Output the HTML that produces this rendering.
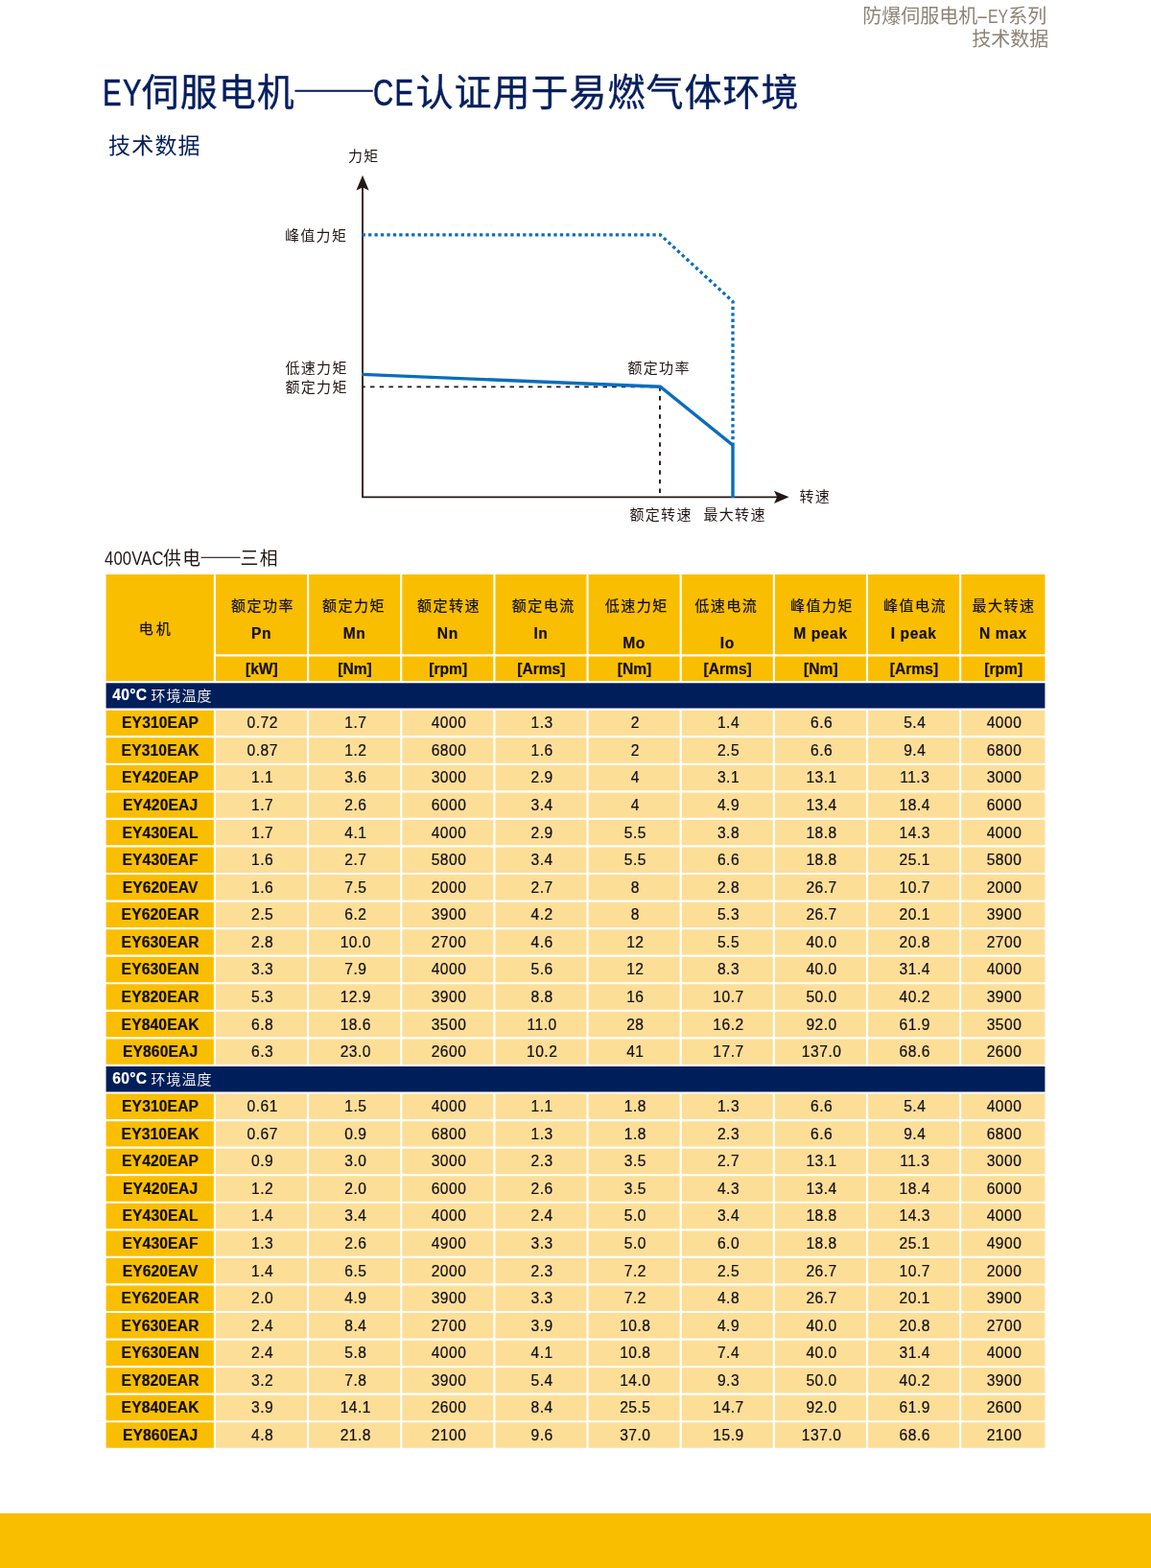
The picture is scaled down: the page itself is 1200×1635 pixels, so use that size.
<!DOCTYPE html>
<html lang="zh-CN">
<head>
<meta charset="utf-8">
<meta name="viewport" content="width=1200">
<title>EY伺服电机——CE认证用于易燃气体环境 技术数据</title>
<style>
html,body{margin:0;padding:0;background:#fff}
body{width:1200px;height:1635px;overflow:hidden;font-family:"Liberation Sans","Noto Sans CJK SC",sans-serif;color:#231815}
.page{position:relative;width:1200px;height:1635px;overflow:hidden;background:#fff}
.lat{display:inline-block;transform-origin:0 50%}
.dash{font-family:"Noto Sans CJK SC",sans-serif;font-feature-settings:"fwid"}
.runhead{position:absolute;right:106.8px;top:5px;text-align:right;color:#8d8376;font-size:20px;line-height:24.2px;font-weight:400;white-space:nowrap}
.runhead .rh1{padding-right:2px}
.runhead .hy{display:inline-block;width:10.4px;text-align:center;transform:scaleX(1.9)}
.runhead .lat{transform:scaleX(.79);margin-right:-5.2px}
.title{position:absolute;left:106.7px;top:65px;margin:0;font-size:39px;letter-spacing:1px;line-height:56px;font-weight:400;-webkit-text-stroke:.35px #051f5e;color:#051f5e;white-space:nowrap}
.title .lat{transform:scaleX(.75);-webkit-text-stroke:.6px #051f5e;letter-spacing:2px;margin-right:-15.1px}
.title .lat2{margin-left:1px;margin-right:-13.4px}
.title .dash{letter-spacing:0;font-size:40px;display:inline-block;transform:scaleX(1.09)}
.sub{position:absolute;left:113px;top:136.0px;margin:0;font-size:23px;letter-spacing:1.2px;line-height:32px;font-weight:400;color:#051f5e;white-space:nowrap}
.chart{position:absolute;left:0;top:0;width:1200px;height:600px;overflow:visible}
.chart text{font-family:"Liberation Sans","Noto Sans CJK SC",sans-serif;font-size:15px;letter-spacing:1.3px;font-weight:400;fill:#231815}
.cap{position:absolute;left:109px;top:566.4px;margin:0;font-size:18.8px;letter-spacing:1.5px;line-height:30px;font-weight:400;color:#231815;white-space:nowrap}
.cap .lat{font-size:20px;transform:scaleX(.83);margin-right:-13.3px;letter-spacing:.2px}
.cap .dash{display:inline-block;font-size:20px;letter-spacing:0;transform:scaleX(1.09);-webkit-text-stroke:.3px #231815}
.specwrap{position:absolute;left:110px;top:598px}
.specbg{position:absolute;left:0;top:0;display:block}
.spec{position:relative;left:0.55px;top:0.9px;display:grid;grid-template-columns:112.296875px repeat(8,95.015625px) 87.203125px;grid-template-rows:83.34375px 25.609375px;grid-auto-rows:26.421875px;column-gap:2.140625px;row-gap:2.140625px;margin:0;padding:0;border:0;border-spacing:0;font-size:15.6px;letter-spacing:0;line-height:18px;color:#100e16;-webkit-text-stroke:.2px #100e16}
.spec colgroup{display:none}
.spec thead,.spec tbody,.spec tr{display:contents}
.spec th,.spec td{display:flex;align-items:center;justify-content:center;box-sizing:border-box;padding:.9px 0 0 .8px;margin:0;font-weight:400;white-space:nowrap;min-width:0;min-height:0}
.spec th.motor{grid-row:1 / span 2;grid-column:1;font-size:15px;letter-spacing:3px}
.spec tr.h1 th{flex-direction:column;justify-content:flex-start;padding:0}
.spec tr.h1 th.motor{justify-content:center;padding:4px 7.7px 0 0}
.spec tr.h2 th{font-weight:700;grid-row:2;padding-top:2.2px}
.spec tr.h1 th .zh{font-size:15px;letter-spacing:1.5px;margin-left:3.9px;line-height:20px;margin-top:23.2px}
.spec tr.h1 th .sym{font-size:15.6px;letter-spacing:.6px;font-weight:700;line-height:20px;margin-top:9.3px}
.spec tr.h1 th:nth-child(7) .zh{margin-left:.5px}
.spec tr.h1 th:nth-child(10) .zh{margin-left:1.5px}
.spec tr.h1 th .zh{position:relative}
.spec tr.h1 th:nth-child(2) .zh{left:-0.45px}
.spec tr.h1 th:nth-child(3) .zh{left:-2.65px}
.spec tr.h1 th:nth-child(4) .zh{left:-0.8px}
.spec tr.h1 th:nth-child(5) .zh{left:0.85px}
.spec tr.h1 th:nth-child(6) .zh{left:0.8px}
.spec tr.h1 th:nth-child(7) .zh{left:-1.4px}
.spec tr.h1 th:nth-child(8) .zh{left:-0.4px}
.spec tr.h1 th:nth-child(9) .zh{left:-0.5px}
.spec tr.h1 th.low .sym{margin-top:19.2px}
.spec tbody th{font-weight:700;letter-spacing:.15px}
.spec tbody td{letter-spacing:.5px;padding-left:2.4px}
.spec tr.band th{grid-column:1 / -1;color:#fff;-webkit-text-stroke:0;justify-content:flex-start;padding:2.2px 0 0 6.8px}
.spec tr.band th span{font-size:15px;letter-spacing:1px;word-spacing:-1px;font-weight:350}
.spec tr.band th b{position:relative;top:-1px;font-size:15.6px;font-weight:700;letter-spacing:.3px;-webkit-text-stroke:.2px #fff}
.foot{position:absolute;left:0;top:1578px;width:1200px;height:57px;background:#fabe00}
</style>
</head>
<body>
<div class="page">
<header class="runhead"><div class="rh1">防爆伺服电机<span class="hy">-</span><span class="lat">EY</span>系列</div><div class="rh2">技术数据</div></header>
<h1 class="title"><span class="lat">EY</span>伺服电机<span class="dash">——</span><span class="lat lat2">CE</span>认证用于易燃气体环境</h1>
<h2 class="sub">技术数据</h2>
<svg class="chart" viewBox="0 0 1200 600" width="1200" height="600" role="img" aria-label="力矩-转速曲线">
<path d="M378 194.8 V518.3 H811" fill="none" stroke="#231815" stroke-width="1.8" stroke-linejoin="miter"/>
<path d="M378 182.8 L384.6 198.6 L378 195.4 L371.4 198.6 Z" fill="#231815"/>
<path d="M822.6 518.3 L807 524.9 L810.2 518.3 L807 511.7 Z" fill="#231815"/>
<path d="M378 403.4 H688" fill="none" stroke="#231815" stroke-width="1.9" stroke-dasharray="4.5 5.2" stroke-dashoffset="1.7"/>
<path d="M688 403.4 V517.5" fill="none" stroke="#231815" stroke-width="1.9" stroke-dasharray="4.4 5.25"/>
<path d="M377.6 244.8 H688.4 L764 314.4 V464" fill="none" stroke="#0b6dbd" stroke-width="3.3" stroke-dasharray="3.3 3.144"/>
<path d="M377.2 390.4 L688.4 403.3 L764 464.2 V518.9" fill="none" stroke="#0b6dbd" stroke-width="3.4" stroke-linejoin="miter"/>
<text x="363" y="167.6">力矩</text>
<text x="297" y="250.6">峰值力矩</text>
<text x="297.5" y="388.6">低速力矩</text>
<text x="297.5" y="409.1">额定力矩</text>
<text x="654.5" y="388.6">额定功率</text>
<text x="656.5" y="542.1">额定转速</text>
<text x="733.5" y="542.1">最大转速</text>
<text x="833.5" y="523.1">转速</text>
</svg>
<p class="cap"><span class="lat">400VAC</span>供电<span class="dash">——</span>三相</p>
<div class="specwrap">
<svg class="specbg" width="981" height="913" viewBox="0 0 981 913" aria-hidden="true"><g transform="translate(0.55 0.9)"><path fill="#fabe00" d="M0 0h112.296875v111.09375h-112.296875zM114.4375 0h95.015625v83.34375h-95.015625zM114.4375 85.484375h95.015625v25.609375h-95.015625zM211.59375 0h95.015625v83.34375h-95.015625zM211.59375 85.484375h95.015625v25.609375h-95.015625zM308.75 0h95.015625v83.34375h-95.015625zM308.75 85.484375h95.015625v25.609375h-95.015625zM405.90625 0h95.015625v83.34375h-95.015625zM405.90625 85.484375h95.015625v25.609375h-95.015625zM503.0625 0h95.015625v83.34375h-95.015625zM503.0625 85.484375h95.015625v25.609375h-95.015625zM600.21875 0h95.015625v83.34375h-95.015625zM600.21875 85.484375h95.015625v25.609375h-95.015625zM697.375 0h95.015625v83.34375h-95.015625zM697.375 85.484375h95.015625v25.609375h-95.015625zM794.53125 0h95.015625v83.34375h-95.015625zM794.53125 85.484375h95.015625v25.609375h-95.015625zM891.6875 0h87.203125v83.34375h-87.203125zM891.6875 85.484375h87.203125v25.609375h-87.203125zM0 141.796875h112.296875v26.421875h-112.296875zM0 170.359375h112.296875v26.421875h-112.296875zM0 198.921875h112.296875v26.421875h-112.296875zM0 227.484375h112.296875v26.421875h-112.296875zM0 256.046875h112.296875v26.421875h-112.296875zM0 284.609375h112.296875v26.421875h-112.296875zM0 313.171875h112.296875v26.421875h-112.296875zM0 341.734375h112.296875v26.421875h-112.296875zM0 370.296875h112.296875v26.421875h-112.296875zM0 398.859375h112.296875v26.421875h-112.296875zM0 427.421875h112.296875v26.421875h-112.296875zM0 455.984375h112.296875v26.421875h-112.296875zM0 484.546875h112.296875v26.421875h-112.296875zM0 541.671875h112.296875v26.421875h-112.296875zM0 570.234375h112.296875v26.421875h-112.296875zM0 598.796875h112.296875v26.421875h-112.296875zM0 627.359375h112.296875v26.421875h-112.296875zM0 655.921875h112.296875v26.421875h-112.296875zM0 684.484375h112.296875v26.421875h-112.296875zM0 713.046875h112.296875v26.421875h-112.296875zM0 741.609375h112.296875v26.421875h-112.296875zM0 770.171875h112.296875v26.421875h-112.296875zM0 798.734375h112.296875v26.421875h-112.296875zM0 827.296875h112.296875v26.421875h-112.296875zM0 855.859375h112.296875v26.421875h-112.296875zM0 884.421875h112.296875v26.421875h-112.296875z"/><path fill="#fdde97" d="M114.4375 141.796875h95.015625v26.421875h-95.015625zM211.59375 141.796875h95.015625v26.421875h-95.015625zM308.75 141.796875h95.015625v26.421875h-95.015625zM405.90625 141.796875h95.015625v26.421875h-95.015625zM503.0625 141.796875h95.015625v26.421875h-95.015625zM600.21875 141.796875h95.015625v26.421875h-95.015625zM697.375 141.796875h95.015625v26.421875h-95.015625zM794.53125 141.796875h95.015625v26.421875h-95.015625zM891.6875 141.796875h87.203125v26.421875h-87.203125zM114.4375 170.359375h95.015625v26.421875h-95.015625zM211.59375 170.359375h95.015625v26.421875h-95.015625zM308.75 170.359375h95.015625v26.421875h-95.015625zM405.90625 170.359375h95.015625v26.421875h-95.015625zM503.0625 170.359375h95.015625v26.421875h-95.015625zM600.21875 170.359375h95.015625v26.421875h-95.015625zM697.375 170.359375h95.015625v26.421875h-95.015625zM794.53125 170.359375h95.015625v26.421875h-95.015625zM891.6875 170.359375h87.203125v26.421875h-87.203125zM114.4375 198.921875h95.015625v26.421875h-95.015625zM211.59375 198.921875h95.015625v26.421875h-95.015625zM308.75 198.921875h95.015625v26.421875h-95.015625zM405.90625 198.921875h95.015625v26.421875h-95.015625zM503.0625 198.921875h95.015625v26.421875h-95.015625zM600.21875 198.921875h95.015625v26.421875h-95.015625zM697.375 198.921875h95.015625v26.421875h-95.015625zM794.53125 198.921875h95.015625v26.421875h-95.015625zM891.6875 198.921875h87.203125v26.421875h-87.203125zM114.4375 227.484375h95.015625v26.421875h-95.015625zM211.59375 227.484375h95.015625v26.421875h-95.015625zM308.75 227.484375h95.015625v26.421875h-95.015625zM405.90625 227.484375h95.015625v26.421875h-95.015625zM503.0625 227.484375h95.015625v26.421875h-95.015625zM600.21875 227.484375h95.015625v26.421875h-95.015625zM697.375 227.484375h95.015625v26.421875h-95.015625zM794.53125 227.484375h95.015625v26.421875h-95.015625zM891.6875 227.484375h87.203125v26.421875h-87.203125zM114.4375 256.046875h95.015625v26.421875h-95.015625zM211.59375 256.046875h95.015625v26.421875h-95.015625zM308.75 256.046875h95.015625v26.421875h-95.015625zM405.90625 256.046875h95.015625v26.421875h-95.015625zM503.0625 256.046875h95.015625v26.421875h-95.015625zM600.21875 256.046875h95.015625v26.421875h-95.015625zM697.375 256.046875h95.015625v26.421875h-95.015625zM794.53125 256.046875h95.015625v26.421875h-95.015625zM891.6875 256.046875h87.203125v26.421875h-87.203125zM114.4375 284.609375h95.015625v26.421875h-95.015625zM211.59375 284.609375h95.015625v26.421875h-95.015625zM308.75 284.609375h95.015625v26.421875h-95.015625zM405.90625 284.609375h95.015625v26.421875h-95.015625zM503.0625 284.609375h95.015625v26.421875h-95.015625zM600.21875 284.609375h95.015625v26.421875h-95.015625zM697.375 284.609375h95.015625v26.421875h-95.015625zM794.53125 284.609375h95.015625v26.421875h-95.015625zM891.6875 284.609375h87.203125v26.421875h-87.203125zM114.4375 313.171875h95.015625v26.421875h-95.015625zM211.59375 313.171875h95.015625v26.421875h-95.015625zM308.75 313.171875h95.015625v26.421875h-95.015625zM405.90625 313.171875h95.015625v26.421875h-95.015625zM503.0625 313.171875h95.015625v26.421875h-95.015625zM600.21875 313.171875h95.015625v26.421875h-95.015625zM697.375 313.171875h95.015625v26.421875h-95.015625zM794.53125 313.171875h95.015625v26.421875h-95.015625zM891.6875 313.171875h87.203125v26.421875h-87.203125zM114.4375 341.734375h95.015625v26.421875h-95.015625zM211.59375 341.734375h95.015625v26.421875h-95.015625zM308.75 341.734375h95.015625v26.421875h-95.015625zM405.90625 341.734375h95.015625v26.421875h-95.015625zM503.0625 341.734375h95.015625v26.421875h-95.015625zM600.21875 341.734375h95.015625v26.421875h-95.015625zM697.375 341.734375h95.015625v26.421875h-95.015625zM794.53125 341.734375h95.015625v26.421875h-95.015625zM891.6875 341.734375h87.203125v26.421875h-87.203125zM114.4375 370.296875h95.015625v26.421875h-95.015625zM211.59375 370.296875h95.015625v26.421875h-95.015625zM308.75 370.296875h95.015625v26.421875h-95.015625zM405.90625 370.296875h95.015625v26.421875h-95.015625zM503.0625 370.296875h95.015625v26.421875h-95.015625zM600.21875 370.296875h95.015625v26.421875h-95.015625zM697.375 370.296875h95.015625v26.421875h-95.015625zM794.53125 370.296875h95.015625v26.421875h-95.015625zM891.6875 370.296875h87.203125v26.421875h-87.203125zM114.4375 398.859375h95.015625v26.421875h-95.015625zM211.59375 398.859375h95.015625v26.421875h-95.015625zM308.75 398.859375h95.015625v26.421875h-95.015625zM405.90625 398.859375h95.015625v26.421875h-95.015625zM503.0625 398.859375h95.015625v26.421875h-95.015625zM600.21875 398.859375h95.015625v26.421875h-95.015625zM697.375 398.859375h95.015625v26.421875h-95.015625zM794.53125 398.859375h95.015625v26.421875h-95.015625zM891.6875 398.859375h87.203125v26.421875h-87.203125zM114.4375 427.421875h95.015625v26.421875h-95.015625zM211.59375 427.421875h95.015625v26.421875h-95.015625zM308.75 427.421875h95.015625v26.421875h-95.015625zM405.90625 427.421875h95.015625v26.421875h-95.015625zM503.0625 427.421875h95.015625v26.421875h-95.015625zM600.21875 427.421875h95.015625v26.421875h-95.015625zM697.375 427.421875h95.015625v26.421875h-95.015625zM794.53125 427.421875h95.015625v26.421875h-95.015625zM891.6875 427.421875h87.203125v26.421875h-87.203125zM114.4375 455.984375h95.015625v26.421875h-95.015625zM211.59375 455.984375h95.015625v26.421875h-95.015625zM308.75 455.984375h95.015625v26.421875h-95.015625zM405.90625 455.984375h95.015625v26.421875h-95.015625zM503.0625 455.984375h95.015625v26.421875h-95.015625zM600.21875 455.984375h95.015625v26.421875h-95.015625zM697.375 455.984375h95.015625v26.421875h-95.015625zM794.53125 455.984375h95.015625v26.421875h-95.015625zM891.6875 455.984375h87.203125v26.421875h-87.203125zM114.4375 484.546875h95.015625v26.421875h-95.015625zM211.59375 484.546875h95.015625v26.421875h-95.015625zM308.75 484.546875h95.015625v26.421875h-95.015625zM405.90625 484.546875h95.015625v26.421875h-95.015625zM503.0625 484.546875h95.015625v26.421875h-95.015625zM600.21875 484.546875h95.015625v26.421875h-95.015625zM697.375 484.546875h95.015625v26.421875h-95.015625zM794.53125 484.546875h95.015625v26.421875h-95.015625zM891.6875 484.546875h87.203125v26.421875h-87.203125zM114.4375 541.671875h95.015625v26.421875h-95.015625zM211.59375 541.671875h95.015625v26.421875h-95.015625zM308.75 541.671875h95.015625v26.421875h-95.015625zM405.90625 541.671875h95.015625v26.421875h-95.015625zM503.0625 541.671875h95.015625v26.421875h-95.015625zM600.21875 541.671875h95.015625v26.421875h-95.015625zM697.375 541.671875h95.015625v26.421875h-95.015625zM794.53125 541.671875h95.015625v26.421875h-95.015625zM891.6875 541.671875h87.203125v26.421875h-87.203125zM114.4375 570.234375h95.015625v26.421875h-95.015625zM211.59375 570.234375h95.015625v26.421875h-95.015625zM308.75 570.234375h95.015625v26.421875h-95.015625zM405.90625 570.234375h95.015625v26.421875h-95.015625zM503.0625 570.234375h95.015625v26.421875h-95.015625zM600.21875 570.234375h95.015625v26.421875h-95.015625zM697.375 570.234375h95.015625v26.421875h-95.015625zM794.53125 570.234375h95.015625v26.421875h-95.015625zM891.6875 570.234375h87.203125v26.421875h-87.203125zM114.4375 598.796875h95.015625v26.421875h-95.015625zM211.59375 598.796875h95.015625v26.421875h-95.015625zM308.75 598.796875h95.015625v26.421875h-95.015625zM405.90625 598.796875h95.015625v26.421875h-95.015625zM503.0625 598.796875h95.015625v26.421875h-95.015625zM600.21875 598.796875h95.015625v26.421875h-95.015625zM697.375 598.796875h95.015625v26.421875h-95.015625zM794.53125 598.796875h95.015625v26.421875h-95.015625zM891.6875 598.796875h87.203125v26.421875h-87.203125zM114.4375 627.359375h95.015625v26.421875h-95.015625zM211.59375 627.359375h95.015625v26.421875h-95.015625zM308.75 627.359375h95.015625v26.421875h-95.015625zM405.90625 627.359375h95.015625v26.421875h-95.015625zM503.0625 627.359375h95.015625v26.421875h-95.015625zM600.21875 627.359375h95.015625v26.421875h-95.015625zM697.375 627.359375h95.015625v26.421875h-95.015625zM794.53125 627.359375h95.015625v26.421875h-95.015625zM891.6875 627.359375h87.203125v26.421875h-87.203125zM114.4375 655.921875h95.015625v26.421875h-95.015625zM211.59375 655.921875h95.015625v26.421875h-95.015625zM308.75 655.921875h95.015625v26.421875h-95.015625zM405.90625 655.921875h95.015625v26.421875h-95.015625zM503.0625 655.921875h95.015625v26.421875h-95.015625zM600.21875 655.921875h95.015625v26.421875h-95.015625zM697.375 655.921875h95.015625v26.421875h-95.015625zM794.53125 655.921875h95.015625v26.421875h-95.015625zM891.6875 655.921875h87.203125v26.421875h-87.203125zM114.4375 684.484375h95.015625v26.421875h-95.015625zM211.59375 684.484375h95.015625v26.421875h-95.015625zM308.75 684.484375h95.015625v26.421875h-95.015625zM405.90625 684.484375h95.015625v26.421875h-95.015625zM503.0625 684.484375h95.015625v26.421875h-95.015625zM600.21875 684.484375h95.015625v26.421875h-95.015625zM697.375 684.484375h95.015625v26.421875h-95.015625zM794.53125 684.484375h95.015625v26.421875h-95.015625zM891.6875 684.484375h87.203125v26.421875h-87.203125zM114.4375 713.046875h95.015625v26.421875h-95.015625zM211.59375 713.046875h95.015625v26.421875h-95.015625zM308.75 713.046875h95.015625v26.421875h-95.015625zM405.90625 713.046875h95.015625v26.421875h-95.015625zM503.0625 713.046875h95.015625v26.421875h-95.015625zM600.21875 713.046875h95.015625v26.421875h-95.015625zM697.375 713.046875h95.015625v26.421875h-95.015625zM794.53125 713.046875h95.015625v26.421875h-95.015625zM891.6875 713.046875h87.203125v26.421875h-87.203125zM114.4375 741.609375h95.015625v26.421875h-95.015625zM211.59375 741.609375h95.015625v26.421875h-95.015625zM308.75 741.609375h95.015625v26.421875h-95.015625zM405.90625 741.609375h95.015625v26.421875h-95.015625zM503.0625 741.609375h95.015625v26.421875h-95.015625zM600.21875 741.609375h95.015625v26.421875h-95.015625zM697.375 741.609375h95.015625v26.421875h-95.015625zM794.53125 741.609375h95.015625v26.421875h-95.015625zM891.6875 741.609375h87.203125v26.421875h-87.203125zM114.4375 770.171875h95.015625v26.421875h-95.015625zM211.59375 770.171875h95.015625v26.421875h-95.015625zM308.75 770.171875h95.015625v26.421875h-95.015625zM405.90625 770.171875h95.015625v26.421875h-95.015625zM503.0625 770.171875h95.015625v26.421875h-95.015625zM600.21875 770.171875h95.015625v26.421875h-95.015625zM697.375 770.171875h95.015625v26.421875h-95.015625zM794.53125 770.171875h95.015625v26.421875h-95.015625zM891.6875 770.171875h87.203125v26.421875h-87.203125zM114.4375 798.734375h95.015625v26.421875h-95.015625zM211.59375 798.734375h95.015625v26.421875h-95.015625zM308.75 798.734375h95.015625v26.421875h-95.015625zM405.90625 798.734375h95.015625v26.421875h-95.015625zM503.0625 798.734375h95.015625v26.421875h-95.015625zM600.21875 798.734375h95.015625v26.421875h-95.015625zM697.375 798.734375h95.015625v26.421875h-95.015625zM794.53125 798.734375h95.015625v26.421875h-95.015625zM891.6875 798.734375h87.203125v26.421875h-87.203125zM114.4375 827.296875h95.015625v26.421875h-95.015625zM211.59375 827.296875h95.015625v26.421875h-95.015625zM308.75 827.296875h95.015625v26.421875h-95.015625zM405.90625 827.296875h95.015625v26.421875h-95.015625zM503.0625 827.296875h95.015625v26.421875h-95.015625zM600.21875 827.296875h95.015625v26.421875h-95.015625zM697.375 827.296875h95.015625v26.421875h-95.015625zM794.53125 827.296875h95.015625v26.421875h-95.015625zM891.6875 827.296875h87.203125v26.421875h-87.203125zM114.4375 855.859375h95.015625v26.421875h-95.015625zM211.59375 855.859375h95.015625v26.421875h-95.015625zM308.75 855.859375h95.015625v26.421875h-95.015625zM405.90625 855.859375h95.015625v26.421875h-95.015625zM503.0625 855.859375h95.015625v26.421875h-95.015625zM600.21875 855.859375h95.015625v26.421875h-95.015625zM697.375 855.859375h95.015625v26.421875h-95.015625zM794.53125 855.859375h95.015625v26.421875h-95.015625zM891.6875 855.859375h87.203125v26.421875h-87.203125zM114.4375 884.421875h95.015625v26.421875h-95.015625zM211.59375 884.421875h95.015625v26.421875h-95.015625zM308.75 884.421875h95.015625v26.421875h-95.015625zM405.90625 884.421875h95.015625v26.421875h-95.015625zM503.0625 884.421875h95.015625v26.421875h-95.015625zM600.21875 884.421875h95.015625v26.421875h-95.015625zM697.375 884.421875h95.015625v26.421875h-95.015625zM794.53125 884.421875h95.015625v26.421875h-95.015625zM891.6875 884.421875h87.203125v26.421875h-87.203125z"/><path fill="#001e5a" d="M0 113.234375h978.890625v26.421875h-978.890625zM0 513.109375h978.890625v26.421875h-978.890625z"/></g></svg>
<table class="spec">
<colgroup><col class="c0"><col class="cn"><col class="cn"><col class="cn"><col class="cn"><col class="cn"><col class="cn"><col class="cn"><col class="cn"><col class="cl"></colgroup>
<thead>
<tr class="h1"><th rowspan="2" class="motor"><span>电机</span></th><th><span class="zh">额定功率</span><span class="sym">Pn</span></th><th><span class="zh">额定力矩</span><span class="sym">Mn</span></th><th><span class="zh">额定转速</span><span class="sym">Nn</span></th><th><span class="zh">额定电流</span><span class="sym">In</span></th><th class="low"><span class="zh">低速力矩</span><span class="sym">Mo</span></th><th class="low"><span class="zh">低速电流</span><span class="sym">Io</span></th><th><span class="zh">峰值力矩</span><span class="sym">M peak</span></th><th><span class="zh">峰值电流</span><span class="sym">I peak</span></th><th><span class="zh">最大转速</span><span class="sym">N max</span></th></tr>
<tr class="h2"><th><span>[kW]</span></th><th><span>[Nm]</span></th><th><span>[rpm]</span></th><th><span>[Arms]</span></th><th><span>[Nm]</span></th><th><span>[Arms]</span></th><th><span>[Nm]</span></th><th><span>[Arms]</span></th><th><span>[rpm]</span></th></tr>
</thead>
<tbody>
<tr class="band"><th colspan="10"><span><b>40°C</b> 环境温度</span></th></tr>
<tr><th><span>EY310EAP</span></th><td><span>0.72</span></td><td><span>1.7</span></td><td><span>4000</span></td><td><span>1.3</span></td><td><span>2</span></td><td><span>1.4</span></td><td><span>6.6</span></td><td><span>5.4</span></td><td><span>4000</span></td></tr>
<tr><th><span>EY310EAK</span></th><td><span>0.87</span></td><td><span>1.2</span></td><td><span>6800</span></td><td><span>1.6</span></td><td><span>2</span></td><td><span>2.5</span></td><td><span>6.6</span></td><td><span>9.4</span></td><td><span>6800</span></td></tr>
<tr><th><span>EY420EAP</span></th><td><span>1.1</span></td><td><span>3.6</span></td><td><span>3000</span></td><td><span>2.9</span></td><td><span>4</span></td><td><span>3.1</span></td><td><span>13.1</span></td><td><span>11.3</span></td><td><span>3000</span></td></tr>
<tr><th><span>EY420EAJ</span></th><td><span>1.7</span></td><td><span>2.6</span></td><td><span>6000</span></td><td><span>3.4</span></td><td><span>4</span></td><td><span>4.9</span></td><td><span>13.4</span></td><td><span>18.4</span></td><td><span>6000</span></td></tr>
<tr><th><span>EY430EAL</span></th><td><span>1.7</span></td><td><span>4.1</span></td><td><span>4000</span></td><td><span>2.9</span></td><td><span>5.5</span></td><td><span>3.8</span></td><td><span>18.8</span></td><td><span>14.3</span></td><td><span>4000</span></td></tr>
<tr><th><span>EY430EAF</span></th><td><span>1.6</span></td><td><span>2.7</span></td><td><span>5800</span></td><td><span>3.4</span></td><td><span>5.5</span></td><td><span>6.6</span></td><td><span>18.8</span></td><td><span>25.1</span></td><td><span>5800</span></td></tr>
<tr><th><span>EY620EAV</span></th><td><span>1.6</span></td><td><span>7.5</span></td><td><span>2000</span></td><td><span>2.7</span></td><td><span>8</span></td><td><span>2.8</span></td><td><span>26.7</span></td><td><span>10.7</span></td><td><span>2000</span></td></tr>
<tr><th><span>EY620EAR</span></th><td><span>2.5</span></td><td><span>6.2</span></td><td><span>3900</span></td><td><span>4.2</span></td><td><span>8</span></td><td><span>5.3</span></td><td><span>26.7</span></td><td><span>20.1</span></td><td><span>3900</span></td></tr>
<tr><th><span>EY630EAR</span></th><td><span>2.8</span></td><td><span>10.0</span></td><td><span>2700</span></td><td><span>4.6</span></td><td><span>12</span></td><td><span>5.5</span></td><td><span>40.0</span></td><td><span>20.8</span></td><td><span>2700</span></td></tr>
<tr><th><span>EY630EAN</span></th><td><span>3.3</span></td><td><span>7.9</span></td><td><span>4000</span></td><td><span>5.6</span></td><td><span>12</span></td><td><span>8.3</span></td><td><span>40.0</span></td><td><span>31.4</span></td><td><span>4000</span></td></tr>
<tr><th><span>EY820EAR</span></th><td><span>5.3</span></td><td><span>12.9</span></td><td><span>3900</span></td><td><span>8.8</span></td><td><span>16</span></td><td><span>10.7</span></td><td><span>50.0</span></td><td><span>40.2</span></td><td><span>3900</span></td></tr>
<tr><th><span>EY840EAK</span></th><td><span>6.8</span></td><td><span>18.6</span></td><td><span>3500</span></td><td><span>11.0</span></td><td><span>28</span></td><td><span>16.2</span></td><td><span>92.0</span></td><td><span>61.9</span></td><td><span>3500</span></td></tr>
<tr><th><span>EY860EAJ</span></th><td><span>6.3</span></td><td><span>23.0</span></td><td><span>2600</span></td><td><span>10.2</span></td><td><span>41</span></td><td><span>17.7</span></td><td><span>137.0</span></td><td><span>68.6</span></td><td><span>2600</span></td></tr>
</tbody>
<tbody>
<tr class="band"><th colspan="10"><span><b>60°C</b> 环境温度</span></th></tr>
<tr><th><span>EY310EAP</span></th><td><span>0.61</span></td><td><span>1.5</span></td><td><span>4000</span></td><td><span>1.1</span></td><td><span>1.8</span></td><td><span>1.3</span></td><td><span>6.6</span></td><td><span>5.4</span></td><td><span>4000</span></td></tr>
<tr><th><span>EY310EAK</span></th><td><span>0.67</span></td><td><span>0.9</span></td><td><span>6800</span></td><td><span>1.3</span></td><td><span>1.8</span></td><td><span>2.3</span></td><td><span>6.6</span></td><td><span>9.4</span></td><td><span>6800</span></td></tr>
<tr><th><span>EY420EAP</span></th><td><span>0.9</span></td><td><span>3.0</span></td><td><span>3000</span></td><td><span>2.3</span></td><td><span>3.5</span></td><td><span>2.7</span></td><td><span>13.1</span></td><td><span>11.3</span></td><td><span>3000</span></td></tr>
<tr><th><span>EY420EAJ</span></th><td><span>1.2</span></td><td><span>2.0</span></td><td><span>6000</span></td><td><span>2.6</span></td><td><span>3.5</span></td><td><span>4.3</span></td><td><span>13.4</span></td><td><span>18.4</span></td><td><span>6000</span></td></tr>
<tr><th><span>EY430EAL</span></th><td><span>1.4</span></td><td><span>3.4</span></td><td><span>4000</span></td><td><span>2.4</span></td><td><span>5.0</span></td><td><span>3.4</span></td><td><span>18.8</span></td><td><span>14.3</span></td><td><span>4000</span></td></tr>
<tr><th><span>EY430EAF</span></th><td><span>1.3</span></td><td><span>2.6</span></td><td><span>4900</span></td><td><span>3.3</span></td><td><span>5.0</span></td><td><span>6.0</span></td><td><span>18.8</span></td><td><span>25.1</span></td><td><span>4900</span></td></tr>
<tr><th><span>EY620EAV</span></th><td><span>1.4</span></td><td><span>6.5</span></td><td><span>2000</span></td><td><span>2.3</span></td><td><span>7.2</span></td><td><span>2.5</span></td><td><span>26.7</span></td><td><span>10.7</span></td><td><span>2000</span></td></tr>
<tr><th><span>EY620EAR</span></th><td><span>2.0</span></td><td><span>4.9</span></td><td><span>3900</span></td><td><span>3.3</span></td><td><span>7.2</span></td><td><span>4.8</span></td><td><span>26.7</span></td><td><span>20.1</span></td><td><span>3900</span></td></tr>
<tr><th><span>EY630EAR</span></th><td><span>2.4</span></td><td><span>8.4</span></td><td><span>2700</span></td><td><span>3.9</span></td><td><span>10.8</span></td><td><span>4.9</span></td><td><span>40.0</span></td><td><span>20.8</span></td><td><span>2700</span></td></tr>
<tr><th><span>EY630EAN</span></th><td><span>2.4</span></td><td><span>5.8</span></td><td><span>4000</span></td><td><span>4.1</span></td><td><span>10.8</span></td><td><span>7.4</span></td><td><span>40.0</span></td><td><span>31.4</span></td><td><span>4000</span></td></tr>
<tr><th><span>EY820EAR</span></th><td><span>3.2</span></td><td><span>7.8</span></td><td><span>3900</span></td><td><span>5.4</span></td><td><span>14.0</span></td><td><span>9.3</span></td><td><span>50.0</span></td><td><span>40.2</span></td><td><span>3900</span></td></tr>
<tr><th><span>EY840EAK</span></th><td><span>3.9</span></td><td><span>14.1</span></td><td><span>2600</span></td><td><span>8.4</span></td><td><span>25.5</span></td><td><span>14.7</span></td><td><span>92.0</span></td><td><span>61.9</span></td><td><span>2600</span></td></tr>
<tr><th><span>EY860EAJ</span></th><td><span>4.8</span></td><td><span>21.8</span></td><td><span>2100</span></td><td><span>9.6</span></td><td><span>37.0</span></td><td><span>15.9</span></td><td><span>137.0</span></td><td><span>68.6</span></td><td><span>2100</span></td></tr>
</tbody>
</table>
</div>
<footer class="foot"></footer>
</div>
</body>
</html>
